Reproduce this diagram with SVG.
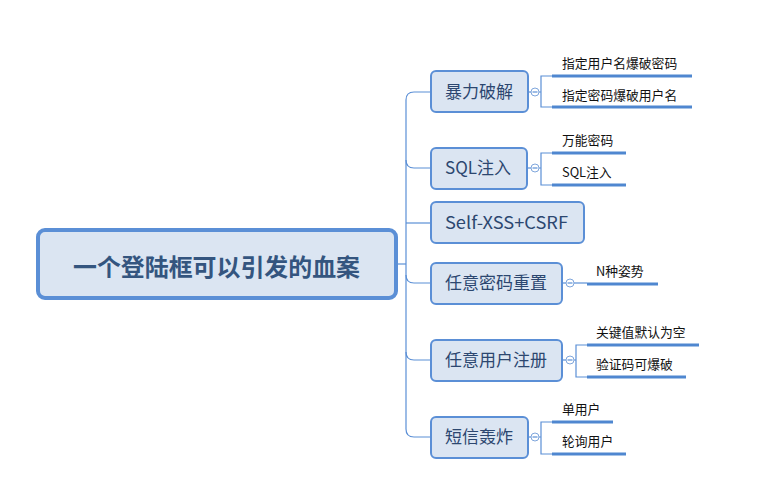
<svg xmlns="http://www.w3.org/2000/svg" width="773" height="501" viewBox="0 0 773 501">
<style>
.bg{fill:#ffffff}
.ln{fill:none;stroke:#5b8fd6;stroke-width:1.2}
.ul{fill:none;stroke:#4f87d0;stroke-width:3}
.cc{fill:#ffffff;stroke:#7fa6dc;stroke-width:1}
.node rect{fill:#dbe5f2;stroke:#5b8fd6;stroke-width:2}
.node text{font-family:"Noto Sans CJK SC","Liberation Sans",sans-serif;font-size:17px;fill:#2c4770}
.root rect{fill:#dbe5f2;stroke:#5b8fd6;stroke-width:4}
.root text{font-family:"Noto Sans CJK SC","Liberation Sans",sans-serif;font-size:24px;font-weight:bold;fill:#34557f}
.sub text{font-family:"Noto Sans CJK SC","Liberation Sans",sans-serif;font-size:12.8px;fill:#111111}
</style>
<rect class="bg" x="0" y="0" width="773" height="501"/>
<g id="connectors">
<line class="ln" x1="398" y1="264" x2="406" y2="264"/>
<path class="ln" d="M431 92 H414 Q406 92 406 100 V429 Q406 437 414 437 H431"/>
<path class="ln" d="M406 160 Q406 168 414 168 H431"/>
<line class="ln" x1="406" y1="223" x2="431" y2="223"/>
<path class="ln" d="M406 275 Q406 283 414 283 H431"/>
<path class="ln" d="M406 352 Q406 360 414 360 H431"/>
<line class="ln" x1="528" y1="92" x2="531" y2="92"/>
<path class="ln" d="M539 92 H541 M552 76 H541 V107 H552"/>
<line class="ln" x1="527" y1="168" x2="531" y2="168"/>
<path class="ln" d="M539 168 H541 M552 153 H541 V185 H552"/>
<line class="ln" x1="562" y1="283" x2="566" y2="283"/>
<line class="ln" x1="574" y1="283" x2="587" y2="283"/>
<line class="ln" x1="562" y1="360" x2="566" y2="360"/>
<path class="ln" d="M574 360 H576 M587 345 H576 V377 H587"/>
<line class="ln" x1="528" y1="437" x2="531" y2="437"/>
<path class="ln" d="M539 437 H541 M552 422 H541 V454 H552"/>
<circle class="cc" cx="535" cy="92" r="4"/>
<line class="ln" x1="532.5" y1="92" x2="537.5" y2="92"/>
<circle class="cc" cx="535" cy="168" r="4"/>
<line class="ln" x1="532.5" y1="168" x2="537.5" y2="168"/>
<circle class="cc" cx="570" cy="283" r="4"/>
<line class="ln" x1="567.5" y1="283" x2="572.5" y2="283"/>
<circle class="cc" cx="570" cy="360" r="4"/>
<line class="ln" x1="567.5" y1="360" x2="572.5" y2="360"/>
<circle class="cc" cx="535" cy="437" r="4"/>
<line class="ln" x1="532.5" y1="437" x2="537.5" y2="437"/>
</g>
<g id="root" class="root">
<rect x="38" y="230" width="358" height="68" rx="7"/>
<text x="73" y="276" textLength="287" lengthAdjust="spacingAndGlyphs">一个登陆框可以引发的血案</text>
</g>
<g id="n1" class="node">
<rect x="431" y="71" width="97" height="41" rx="5"/>
<text x="445" y="98">暴力破解</text>
</g>
<g id="n2" class="node">
<rect x="431" y="148" width="96" height="41" rx="5"/>
<text x="445" y="174">SQL注入</text>
</g>
<g id="n3" class="node">
<rect x="431" y="202" width="153" height="41" rx="5"/>
<text x="445" y="229" textLength="123" lengthAdjust="spacingAndGlyphs">Self-XSS+CSRF</text>
</g>
<g id="n4" class="node">
<rect x="431" y="263" width="131" height="41" rx="5"/>
<text x="445" y="289">任意密码重置</text>
</g>
<g id="n5" class="node">
<rect x="431" y="340" width="131" height="41" rx="5"/>
<text x="445" y="366">任意用户注册</text>
</g>
<g id="n6" class="node">
<rect x="431" y="417" width="97" height="41" rx="5"/>
<text x="445" y="443">短信轰炸</text>
</g>
<g id="s1" class="sub">
<line class="ul" x1="552" y1="76" x2="692" y2="76"/>
<text x="562" y="68">指定用户名爆破密码</text>
</g>
<g id="s2" class="sub">
<line class="ul" x1="552" y1="107" x2="692" y2="107"/>
<text x="562" y="100">指定密码爆破用户名</text>
</g>
<g id="s3" class="sub">
<line class="ul" x1="552" y1="153" x2="626" y2="153"/>
<text x="562" y="145">万能密码</text>
</g>
<g id="s4" class="sub">
<line class="ul" x1="552" y1="185" x2="626" y2="185"/>
<text x="562" y="177">SQL注入</text>
</g>
<g id="s5" class="sub">
<line class="ul" x1="587" y1="284" x2="658" y2="284"/>
<text x="596" y="276">N种姿势</text>
</g>
<g id="s6" class="sub">
<line class="ul" x1="587" y1="345" x2="699" y2="345"/>
<text x="596" y="337">关键值默认为空</text>
</g>
<g id="s7" class="sub">
<line class="ul" x1="587" y1="377" x2="686" y2="377"/>
<text x="596" y="369">验证码可爆破</text>
</g>
<g id="s8" class="sub">
<line class="ul" x1="552" y1="422" x2="613" y2="422"/>
<text x="562" y="414">单用户</text>
</g>
<g id="s9" class="sub">
<line class="ul" x1="552" y1="454" x2="626" y2="454"/>
<text x="562" y="446">轮询用户</text>
</g>
</svg>
